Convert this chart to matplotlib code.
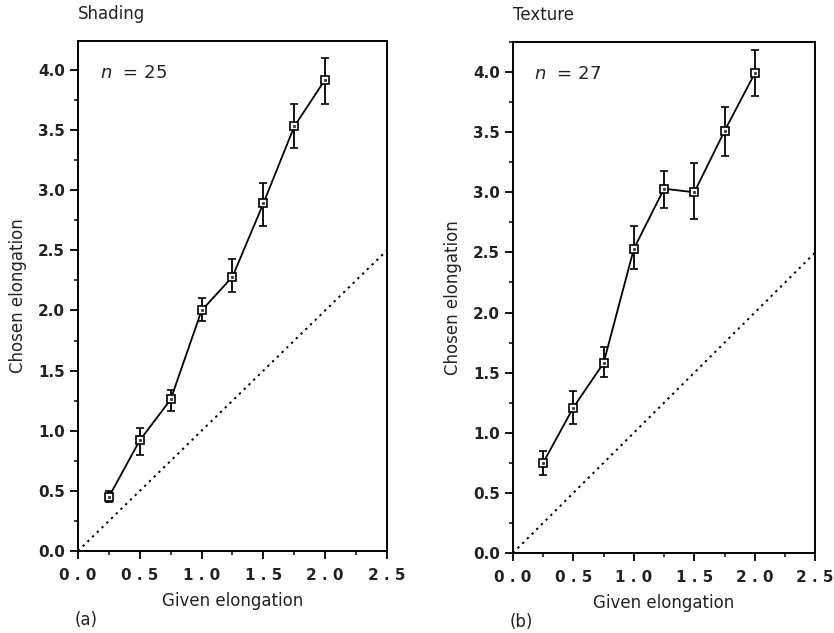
import matplotlib
matplotlib.use('Agg')
import matplotlib.pyplot as plt
from matplotlib.ticker import MultipleLocator
import numpy as np

# Given elongation levels (shared by both conditions)
given = [0.25, 0.5, 0.75, 1.0, 1.25, 1.5, 1.75, 2.0]

# Shading condition: mean chosen elongation and error-bar ends
shading_mean = [0.45, 0.92, 1.26, 2.00, 2.28, 2.89, 3.53, 3.92]
shading_top = [0.50, 1.02, 1.34, 2.10, 2.43, 3.06, 3.72, 4.10]
shading_bot = [0.41, 0.80, 1.16, 1.91, 2.15, 2.70, 3.35, 3.72]

# Texture condition
texture_mean = [0.75, 1.21, 1.58, 2.53, 3.03, 3.00, 3.51, 3.99]
texture_top = [0.85, 1.35, 1.71, 2.72, 3.18, 3.24, 3.71, 4.18]
texture_bot = [0.65, 1.07, 1.46, 2.36, 2.87, 2.78, 3.30, 3.80]

identity = [0.0, 2.5]

x_ticklabels = ['0 . 0', '0 . 5', '1 . 0', '1 . 5', '2 . 0', '2 . 5']

panels = [
    ('Shading', '25', '(a)', shading_mean, shading_top, shading_bot,
     [0.0935, 0.1295, 0.3705, 0.8057], 4.24),
    ('Texture', '27', '(b)', texture_mean, texture_top, texture_bot,
     [0.615, 0.1264, 0.3625, 0.8072], 4.25),
]

plt.rcParams['font.family'] = 'DejaVu Sans'
fig = plt.figure(figsize=(8.34, 6.33), dpi=100)
txt = '#222222'

for title, n, tag, mean, top, bot, rect, ytop in panels:
    ax = fig.add_axes(rect)
    mean = np.array(mean)
    yerr = [mean - np.array(bot), np.array(top) - mean]

    # identity line (chosen = given)
    ax.plot(identity, identity, color='black', linestyle=(0, (1.2, 2.2)), linewidth=1.4)

    ax.errorbar(given, mean, yerr=yerr, color='black', linewidth=1.3,
                elinewidth=1.3, capsize=2.6, capthick=1.3,
                marker='s', markersize=6, markerfacecolor='white',
                markeredgecolor='black', markeredgewidth=1.2, zorder=3)
    ax.plot(given, mean, linestyle='none', marker='s', markersize=1.2,
            color='#444444', zorder=4)

    ax.set_xlim(0, 2.5)
    ax.set_ylim(0, ytop)
    ax.set_xticks(np.arange(0, 2.51, 0.5))
    ax.set_yticks(np.arange(0, 4.01, 0.5))
    ax.xaxis.set_minor_locator(MultipleLocator(0.25))
    ax.yaxis.set_minor_locator(MultipleLocator(0.25))
    ax.tick_params(which='major', direction='out', length=6, width=1.3,
                   labelsize=11, colors='black', labelcolor=txt)
    ax.tick_params(axis='x', which='major', pad=6)
    ax.tick_params(which='minor', direction='out', length=3, width=1.1)
    ax.set_xticklabels(x_ticklabels, fontweight='bold')
    ax.set_yticklabels([f'{v:.1f}' for v in np.arange(0, 4.01, 0.5)],
                       fontweight='bold')
    for s in ax.spines.values():
        s.set_linewidth(1.4)

    ax.set_xlabel('Given elongation', fontsize=12, color=txt, labelpad=7)
    ax.set_ylabel('Chosen elongation', fontsize=12, color=txt, labelpad=8)
    ax.text(0.0, 1.035, title, transform=ax.transAxes, fontsize=12,
            color=txt, ha='left', va='bottom')
    ax.text(0.07, 0.955, r'$\mathit{n}$  = ' + n, transform=ax.transAxes,
            fontsize=13, color=txt, ha='left', va='top')
    ax.text(-0.01, -0.135, tag, transform=ax.transAxes, fontsize=12,
            color=txt, ha='left', va='center')

fig.savefig('out.png', dpi=100)
